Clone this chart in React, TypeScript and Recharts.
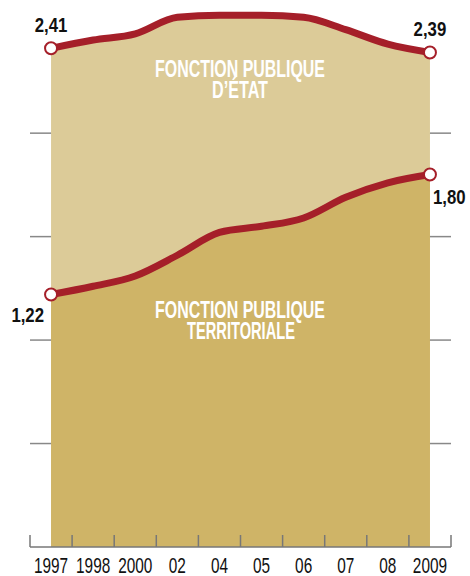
import {
  AreaChart,
  Area,
  XAxis,
  YAxis,
  ReferenceLine,
  LabelList,
} from "recharts";

const years = ["1997", "1998", "2000", "02", "04", "05", "06", "07", "08", "2009"];
const etat = [2.41, 2.45, 2.48, 2.56, 2.57, 2.57, 2.56, 2.5, 2.43, 2.39];
const territoriale = [1.22, 1.26, 1.31, 1.41, 1.52, 1.55, 1.59, 1.69, 1.76, 1.8];
const yTicks = [0.5, 1, 1.5, 2];

const data = years.map((year, i) => ({
  i,
  year,
  etat: etat[i],
  territoriale: territoriale[i],
}));

const RED = "#a51f29";
const FONT = "'Liberation Sans', Arial, sans-serif";
const last = years.length - 1;
const fmt = (v: number) => v.toFixed(2).replace(".", ",");

const xTicks: number[] = [];
for (let k = -1; k <= years.length * 2 - 1; k++) xTicks.push(k / 2);

// narrow text: the original uses a condensed face, so squeeze horizontally
const Narrow = ({ x, y, anchor, size, bold, sx, children }: any) => (
  <text
    transform={`translate(${x},${y}) scale(${sx},1)`}
    textAnchor={anchor}
    fontFamily={FONT}
    fontWeight={bold ? "bold" : "normal"}
    fontSize={size}
    fill="#111"
  >
    {children}
  </text>
);

const XTick = (props: any) => {
  const { x, y, payload } = props;
  const v = payload.value as number;
  if (Number.isInteger(v)) {
    return (
      <Narrow x={x} y={y + 26} anchor="middle" size={22} sx={0.7}>
        {years[v]}
      </Narrow>
    );
  }
  return <line x1={x} x2={x} y1={y - 12} y2={y} stroke="#777" strokeWidth={1.5} />;
};

const EndDot = (props: any) => {
  const { cx, cy, index } = props;
  if (index !== 0 && index !== last) return <g key={index} />;
  return <circle key={index} cx={cx} cy={cy} r={6} fill="#fff" stroke={RED} strokeWidth={2} />;
};

const TopLabel = (props: any) => {
  const { x, y, index, value } = props;
  if (index !== 0 && index !== last) return null;
  return (
    <Narrow x={x} y={y - 16} anchor="middle" size={20} bold sx={0.84}>
      {fmt(value)}
    </Narrow>
  );
};

const BottomLabel = (props: any) => {
  const { x, y, index, value } = props;
  if (index === 0) {
    return (
      <Narrow x={x - 7} y={y + 27} anchor="end" size={20} bold sx={0.84}>
        {fmt(value)}
      </Narrow>
    );
  }
  if (index === last) {
    return (
      <Narrow x={x + 3} y={y + 29} anchor="start" size={20} bold sx={0.84}>
        {fmt(value)}
      </Narrow>
    );
  }
  return null;
};

const AreaNames = () => (
  <svg
    width={470}
    height={576}
    style={{ position: "absolute", left: 0, top: 0, pointerEvents: "none" }}
  >
    <g fontFamily={FONT} fontWeight="bold" fontSize={23} fill="#fff" textAnchor="middle">
      <text x={240} y={77} textLength={170} lengthAdjust="spacingAndGlyphs">FONCTION PUBLIQUE</text>
      <text x={240} y={98} textLength={56} lengthAdjust="spacingAndGlyphs">D’ÉTAT</text>
      <text x={240} y={318} textLength={170} lengthAdjust="spacingAndGlyphs">FONCTION PUBLIQUE</text>
      <text x={241} y={339} textLength={108} lengthAdjust="spacingAndGlyphs">TERRITORIALE</text>
    </g>
  </svg>
);

export default function App() {
  return (
    <div style={{ position: "absolute", left: 0, top: 0, width: 470, height: 576, background: "#fff" }}>
      <AreaChart width={470} height={576} data={data} margin={{ top: 9, right: 19, left: 30, bottom: 0 }}>
        <XAxis
          dataKey="i"
          type="number"
          domain={[-0.5, 9.5]}
          ticks={xTicks}
          interval={0}
          tick={<XTick />}
          tickLine={false}
          tickSize={0}
          tickMargin={0}
          height={29}
          axisLine={{ stroke: "#777", strokeWidth: 1.5 }}
        />
        <YAxis hide domain={[0, 2.6]} />
        <Area
          type="monotone"
          dataKey="etat"
          stroke={RED}
          strokeWidth={7}
          fill="#dccb98"
          fillOpacity={1}
          dot={<EndDot />}
          activeDot={false}
          isAnimationActive={false}
        >
          <LabelList dataKey="etat" content={<TopLabel />} />
        </Area>
        <Area
          type="monotone"
          dataKey="territoriale"
          stroke={RED}
          strokeWidth={7}
          fill="#cfb467"
          fillOpacity={1}
          dot={<EndDot />}
          activeDot={false}
          isAnimationActive={false}
        >
          <LabelList dataKey="territoriale" content={<BottomLabel />} />
        </Area>
        {yTicks.map((t) => (
          <ReferenceLine
            key={"l" + t}
            segment={[{ x: -0.5, y: t }, { x: 0, y: t }]}
            stroke="#888"
            strokeWidth={1.5}
          />
        ))}
        {yTicks.map((t) => (
          <ReferenceLine
            key={"r" + t}
            segment={[{ x: 9, y: t }, { x: 9.5, y: t }]}
            stroke="#888"
            strokeWidth={1.5}
          />
        ))}
      </AreaChart>
      <AreaNames />
    </div>
  );
}
